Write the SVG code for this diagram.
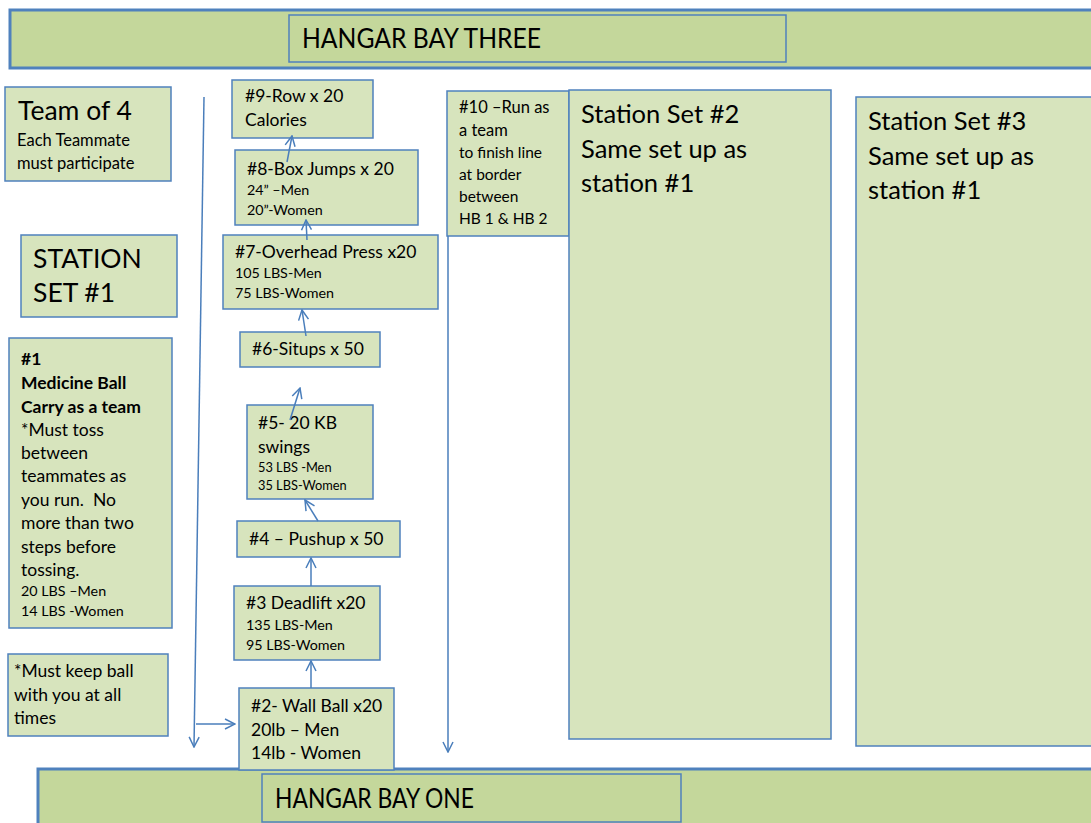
<svg xmlns="http://www.w3.org/2000/svg" width="1091" height="823" viewBox="0 0 1091 823">
<defs>
<style>
.bg{fill:#ffffff}
.band{fill:#c4d79b;stroke:#4f81bd;stroke-width:3}
.title{fill:#c4d79b;stroke:#4f81bd;stroke-width:1.5}
.box{fill:#d7e4bd;stroke:#4f81bd;stroke-width:1.5}
text{font-family:Lato,"Open Sans","Liberation Sans",sans-serif;fill:#000}
.t26{font-size:26.5px}
.t24{font-size:25.5px}
.t17{font-size:17.5px}
.t16{font-size:16.5px}
.t15{font-size:15.5px}
.t14{font-size:14.3px}
.t12{font-size:12.8px}
.b{font-weight:bold}
.ht{font-size:26px}
.conn{fill:none;stroke:#4a7ebb;stroke-width:1.5}
</style>
<marker id="arr" viewBox="0 0 12 12" refX="11" refY="6" markerWidth="12" markerHeight="12" markerUnits="userSpaceOnUse" orient="auto">
<path d="M1,1 L11,6 L1,11" fill="none" stroke="#4a7ebb" stroke-width="1.5"/>
</marker>
</defs>
<rect class="bg" x="0" y="0" width="1091" height="823"/>

<g id="hangar-three">
<rect class="band" x="10" y="10" width="1090" height="58"/>
<rect class="title" x="289" y="15" width="497" height="47"/>
<text class="ht" x="302" y="48" textLength="239" lengthAdjust="spacingAndGlyphs">HANGAR BAY THREE</text>
</g>

<g id="hangar-one">
<rect class="band" x="38" y="769" width="1060" height="60"/>
<rect class="title" x="262" y="774" width="419" height="48"/>
<text class="ht" x="275" y="808" textLength="199" lengthAdjust="spacingAndGlyphs">HANGAR BAY ONE</text>
</g>

<g id="team">
<rect class="box" x="5" y="87" width="166" height="94"/>
<text class="t26" x="18" y="120">Team of 4</text>
<text class="t16" x="17" y="146">Each Teammate</text>
<text class="t16" x="17" y="169">must participate</text>
</g>

<g id="station1">
<rect class="box" x="21" y="235" width="156" height="82"/>
<text class="t26" x="33" y="268">STATION</text>
<text class="t26" x="33" y="302">SET #1</text>
</g>

<g id="s1">
<rect class="box" x="9" y="338" width="163" height="290"/>
<text class="t17 b" x="21" y="365">#1</text>
<text class="t17 b" x="21" y="389">Medicine Ball</text>
<text class="t17 b" x="21" y="413">Carry as a team</text>
<text class="t17" x="21" y="436">*Must toss</text>
<text class="t17" x="21" y="459">between</text>
<text class="t17" x="21" y="482">teammates as</text>
<text class="t17" x="21" y="506" xml:space="preserve">you run.  No</text>
<text class="t17" x="21" y="529">more than two</text>
<text class="t17" x="21" y="553">steps before</text>
<text class="t17" x="21" y="576">tossing.</text>
<text class="t14" x="21" y="596">20 LBS –Men</text>
<text class="t14" x="21" y="616">14 LBS -Women</text>
</g>

<g id="keep">
<rect class="box" x="8" y="654" width="160" height="82"/>
<text class="t17" x="14" y="677">*Must keep ball</text>
<text class="t17" x="14" y="701">with you at all</text>
<text class="t17" x="14" y="724">times</text>
</g>

<g id="s9">
<rect class="box" x="232" y="80" width="141" height="58"/>
<text class="t17" x="245" y="102">#9-Row x 20</text>
<text class="t17" x="245" y="126">Calories</text>
</g>

<g id="s8">
<rect class="box" x="235" y="150" width="183" height="75"/>
<text class="t17" x="247" y="175">#8-Box Jumps x 20</text>
<text class="t14" x="247" y="195">24” –Men</text>
<text class="t14" x="247" y="215">20”-Women</text>
</g>

<g id="s7">
<rect class="box" x="223" y="235" width="215" height="74"/>
<text class="t17" x="235" y="258">#7-Overhead Press x20</text>
<text class="t14" x="235" y="278">105 LBS-Men</text>
<text class="t14" x="235" y="298">75 LBS-Women</text>
</g>

<g id="s6">
<rect class="box" x="240" y="332" width="140" height="35"/>
<text class="t17" x="252" y="355">#6-Situps x 50</text>
</g>

<g id="s5">
<rect class="box" x="247" y="405" width="126" height="94"/>
<text class="t17" x="258" y="429">#5- 20 KB</text>
<text class="t17" x="258" y="453">swings</text>
<text class="t12" x="258" y="472">53 LBS -Men</text>
<text class="t12" x="258" y="490">35 LBS-Women</text>
</g>

<g id="s4">
<rect class="box" x="237" y="521" width="163" height="36"/>
<text class="t17" x="249" y="545">#4 – Pushup x 50</text>
</g>

<g id="s3">
<rect class="box" x="234" y="586" width="146" height="74"/>
<text class="t17" x="246" y="609">#3 Deadlift x20</text>
<text class="t14" x="246" y="630">135 LBS-Men</text>
<text class="t14" x="246" y="650">95 LBS-Women</text>
</g>

<g id="s2">
<rect class="box" x="239" y="688" width="155" height="82"/>
<text class="t17" x="251" y="712">#2- Wall Ball x20</text>
<text class="t17" x="251" y="736">20lb – Men</text>
<text class="t17" x="251" y="759">14lb - Women</text>
</g>

<g id="s10">
<rect class="box" x="447" y="91" width="122" height="145"/>
<text class="t16" x="459" y="113">#10 –Run as</text>
<text class="t16" x="459" y="136">a team</text>
<text class="t15" x="459" y="158">to finish line</text>
<text class="t15" x="459" y="180">at border</text>
<text class="t15" x="459" y="202">between</text>
<text class="t15" x="459" y="224">HB 1 &amp; HB 2</text>
</g>

<g id="station2">
<rect class="box" x="569" y="90" width="262" height="649"/>
<text class="t24" x="581" y="123">Station Set #2</text>
<text class="t24" x="581" y="158">Same set up as</text>
<text class="t24" x="581" y="192">station #1</text>
</g>

<g id="station3">
<rect class="box" x="856" y="97" width="240" height="649"/>
<text class="t24" x="868" y="130">Station Set #3</text>
<text class="t24" x="868" y="165">Same set up as</text>
<text class="t24" x="868" y="199">station #1</text>
</g>

<g id="connectors">
<path class="conn" d="M204,97 L194,747" marker-end="url(#arr)"/>
<path class="conn" d="M196,724 L235,724" marker-end="url(#arr)"/>
<path class="conn" d="M311,688 L311,661" marker-end="url(#arr)"/>
<path class="conn" d="M311,586 L311,558" marker-end="url(#arr)"/>
<path class="conn" d="M318,521 L305,500" marker-end="url(#arr)"/>
<path class="conn" d="M290,420 L300,388" marker-end="url(#arr)"/>
<path class="conn" d="M306,336 L302,310" marker-end="url(#arr)"/>
<path class="conn" d="M307,240 L306,220" marker-end="url(#arr)"/>
<path class="conn" d="M287,162 L292,136" marker-end="url(#arr)"/>
<path class="conn" d="M448,236 L448,752" marker-end="url(#arr)"/>
</g>
</svg>
